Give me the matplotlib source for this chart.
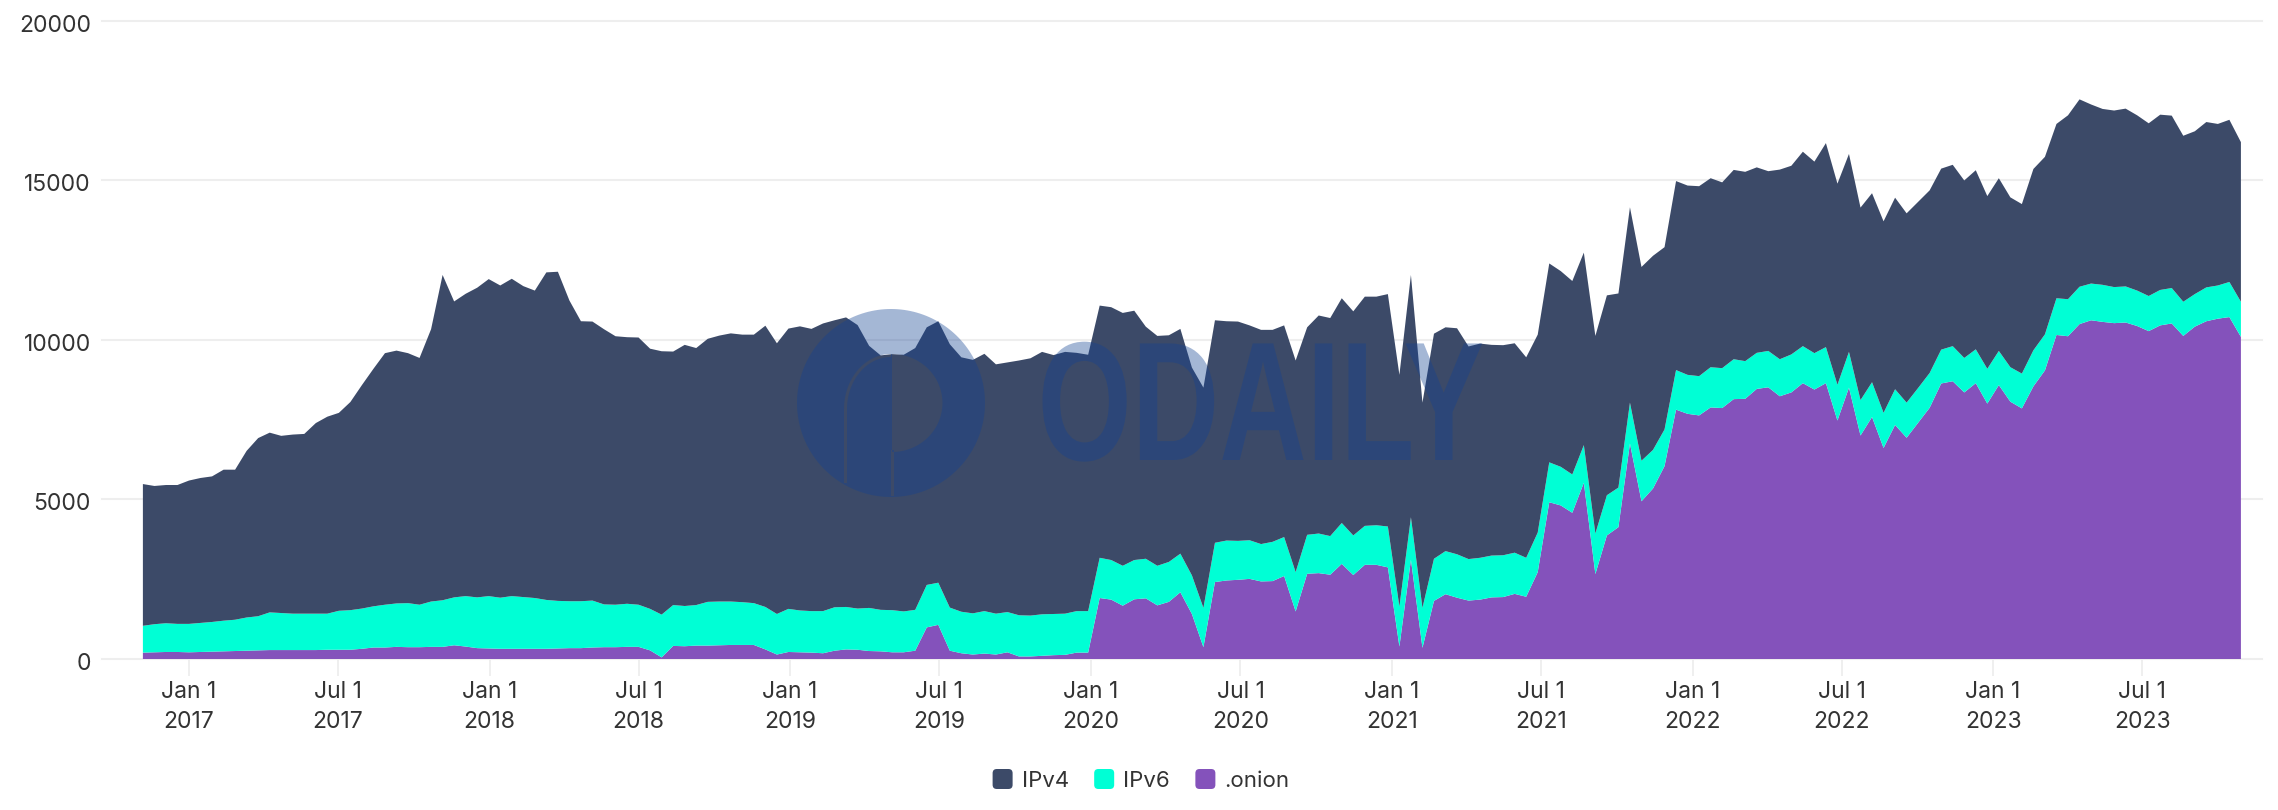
import numpy as np
import pandas as pd
import matplotlib
matplotlib.use("Agg")
import matplotlib.pyplot as plt
from matplotlib.patches import FancyBboxPatch, PathPatch, Patch
from matplotlib.path import Path
from matplotlib.legend_handler import HandlerPatch
from matplotlib.patheffects import AbstractPathEffect
from matplotlib.transforms import Affine2D, ScaledTranslation

# stacked levels, one value every 14 days from 2016-11-06
total_level = [
    5480,5420,5450,5450,5590,5670,5720,5930,5930,6520,6920,7090,6990,7030,7050,7390,7590,7710,8050,8580,9090,9580,9660,9580,9430,10330,12030,
    11200,11440,11630,11900,11700,11910,11680,11540,12110,12130,11230,10580,10570,10330,10110,10080,10070,9720,9640,9630,9840,9740,10030,10130,10200,10160,
    10160,10440,9890,10350,10420,10340,10510,10610,10700,10460,9810,9510,9550,9530,9740,10390,10580,9860,9450,9370,9560,9230,9290,9350,9420,9620,
    9520,9620,9590,9530,11070,11020,10840,10910,10410,10120,10140,10340,9130,8500,10610,10580,10570,10450,10310,10310,10450,9350,10390,10760,10680,11300,
    10890,11350,11350,11430,8900,12030,8030,10190,10390,10360,9790,9880,9840,9830,9890,9450,10160,12390,12150,11840,12730,10120,11390,11450,14150,12280,
    12630,12900,14970,14830,14810,15060,14930,15320,15260,15400,15280,15330,15450,15890,15580,16160,14890,15820,14140,14590,13710,14450,13960,14320,14680,15360,
    15480,14990,15310,14500,15060,14460,14250,15350,15730,16760,17030,17530,17370,17230,17180,17240,17030,16780,17050,17020,16390,16530,16820,16760,16890,16190]
ipv6_level = [
    1040,1090,1120,1100,1100,1130,1160,1200,1230,1300,1340,1460,1440,1420,1420,1420,1420,1510,1530,1580,1650,1700,1740,1750,1700,1800,1840,
    1930,1970,1930,1970,1920,1970,1940,1910,1850,1820,1810,1810,1830,1710,1700,1730,1700,1570,1390,1690,1660,1690,1790,1800,1800,1780,
    1750,1630,1410,1570,1520,1500,1500,1620,1630,1580,1600,1540,1530,1490,1540,2320,2390,1610,1480,1430,1500,1420,1470,1370,1360,1400,
    1410,1420,1500,1500,3170,3100,2920,3100,3140,2920,3040,3300,2620,1600,3640,3710,3700,3720,3600,3670,3820,2720,3890,3930,3850,4260,
    3870,4170,4190,4150,1640,4440,1600,3140,3380,3280,3130,3170,3240,3250,3330,3170,3960,6160,6020,5780,6700,3930,5130,5370,8030,6210,
    6550,7190,9050,8900,8860,9140,9110,9390,9330,9590,9650,9390,9540,9800,9580,9770,8590,9620,8110,8670,7710,8450,8030,8490,8960,9690,
    9800,9430,9700,9090,9650,9140,8940,9670,10170,11300,11270,11660,11760,11720,11650,11670,11540,11370,11560,11620,11190,11430,11640,11700,11810,11190]
onion_level = [
    200,210,220,220,210,220,230,240,250,260,270,280,280,280,280,280,290,290,290,320,360,360,380,370,370,380,380,
    430,390,340,330,320,320,320,320,320,330,340,340,360,370,370,380,380,270,50,410,400,420,420,430,440,440,
    440,300,140,220,210,200,180,260,300,290,250,240,210,210,260,990,1070,260,180,140,170,140,210,80,80,100,
    120,130,200,200,1910,1860,1670,1870,1900,1680,1790,2090,1410,370,2410,2460,2480,2510,2430,2440,2600,1490,2670,2690,2640,2980,
    2630,2950,2950,2870,390,3110,350,1820,2030,1920,1830,1860,1930,1940,2040,1950,2720,4910,4810,4580,5520,2660,3870,4130,6750,4940,
    5340,6040,7810,7680,7630,7880,7860,8140,8150,8460,8510,8230,8350,8640,8440,8640,7470,8500,7000,7580,6610,7330,6930,7400,7870,8630,
    8700,8350,8640,8000,8580,8060,7850,8540,9040,10150,10110,10490,10610,10560,10520,10540,10430,10270,10450,10510,10120,10410,10580,10660,10710,10090]
y_ticks = [0, 5000, 10000, 15000, 20000]
series_names = ["IPv4", "IPv6", ".onion"]
series_colors = ["#3c4a68", "#00ffd5", "#8452bb"]

dates = pd.date_range("2016-11-06", periods=len(total_level), freq="14D")
onion = np.array(onion_level, float)
ipv6 = np.array(ipv6_level, float) - onion
ipv4 = np.array(total_level, float) - np.array(ipv6_level, float)

W, H = 2278, 810
FONT = ["Inter", "DejaVu Sans"]
TEXT = "#333333"
GRID = "#eeeeee"
FS = 16.5
plt.rcParams["font.family"] = FONT

fig = plt.figure(figsize=(W/100, H/100), dpi=100, facecolor="white")
top, bottom, left, right = 20.5, 659.0, 102, 2262
ax = fig.add_axes([left/W, 1-bottom/H, (right-left)/W, (bottom-top)/H])
ax.set_facecolor("none")
ax.stackplot(dates, onion, ipv6, ipv4, colors=[series_colors[2], series_colors[1], series_colors[0]],
             linewidth=0, zorder=3)

px_per_day = 0.8234
jan17 = pd.Timestamp("2017-01-01")
ax.set_xlim(jan17 - pd.Timedelta(days=(189-left)/px_per_day), jan17 + pd.Timedelta(days=(right-189)/px_per_day))
ax.set_ylim(0, 20000)
ax.set_yticks(y_ticks)
ax.set_yticklabels([str(t) for t in y_ticks])
ticks = [pd.Timestamp(y, m, 1) for y in range(2017, 2024) for m in (1, 7)]
ax.set_xticks(ticks)
ax.set_xticklabels([f"{t.strftime('%b')} 1\n{t.year}" for t in ticks], linespacing=1.45)
for s in ax.spines.values():
    s.set_visible(False)
ax.grid(axis="y", color=GRID, linewidth=1.5, zorder=0)
for line in ax.yaxis.get_gridlines():
    line.set_clip_on(False)
ax.set_axisbelow(True)
ax.tick_params(axis="y", length=0, pad=8, labelsize=FS, labelcolor=TEXT)
ax.tick_params(axis="x", length=12, width=1.3, color=GRID, pad=4, labelsize=FS, labelcolor=TEXT)
shift = ScaledTranslation(0, -2.5/100, fig.dpi_scale_trans)
for lab in ax.yaxis.get_majorticklabels():
    lab.set_transform(lab.get_transform() + shift)

# legend with rounded swatches
class RoundHandler(HandlerPatch):
    def create_artists(self, legend, orig, xd, yd, w, h, fs, trans):
        p = FancyBboxPatch((-xd+2.5, -yd+2.5), w-5, w-5, boxstyle="round,pad=2.5,rounding_size=3",
                           facecolor=orig.get_facecolor(), edgecolor="none", transform=trans)
        return [p]

handles = [Patch(facecolor=c, label=n) for c, n in zip(series_colors, series_names)]
fig.legend(handles=handles, loc="center", bbox_to_anchor=(1141/W, 1-781/H), ncol=3, frameon=False,
           fontsize=16, labelcolor=TEXT, handlelength=0.9, handleheight=0.9, handletextpad=0.4,
           columnspacing=1.15, handler_map={Patch: RoundHandler()})

# watermark
WM = "#124293"
def P(x, y):
    return np.column_stack([np.asarray(x, float)/W, 1-np.asarray(y, float)/H])
def poly(pts):
    return Path(np.vstack([pts, pts[0]]))
cx, cy, R = 891, 403, 94
t = np.linspace(0, 2*np.pi, 181)
outer = poly(P(cx+R*np.cos(t[:-1]), cy+R*np.sin(t[:-1])))
a = np.linspace(-np.pi/2, np.pi/2, 61)
dx = np.r_[cx+1+49*np.cos(a)*1.03, cx+1]
dy = np.r_[cy-49+49*(np.sin(a)+1), cy-49]
d_hole = poly(P(dx[::-1], dy[::-1]))
strip = poly(P([cx+3, cx+3, cx, cx][::-1], [cy+47, cy+93, cy+93, cy+47][::-1]))
b = np.linspace(np.pi, 1.5*np.pi, 40)
ox = np.r_[cx-47, cx+47*np.cos(b)]
oy = np.r_[cy+80, cy+6+55*np.sin(b)]
ix = np.r_[cx-44, cx+44*np.cos(b)]
iy = np.r_[cy+80, cy+6+52*np.sin(b)]
arc_hole = poly(P(np.r_[ox, ix[::-1]][::-1], np.r_[oy, iy[::-1]][::-1]))
logo = Path.make_compound_path(outer, d_hole, strip, arc_hole)
fig.add_artist(PathPatch(logo, transform=fig.transFigure, facecolor=WM, edgecolor="none", alpha=0.38, zorder=10))

class Condense(AbstractPathEffect):
    """Squeezes text horizontally about a display x position."""
    def __init__(self, sx, x0):
        super().__init__()
        self.sx, self.x0 = sx, x0
    def draw_path(self, renderer, gc, tpath, affine, rgbFace=None):
        squeeze = Affine2D().translate(-self.x0, 0).scale(self.sx, 1).translate(self.x0, 0)
        renderer.draw_path(gc, tpath, affine + squeeze, rgbFace)

fig.text(1261/W, 1-416/H, "ODAILY", family=["Liberation Sans", "DejaVu Sans"],
         weight="bold", fontsize=122, color=WM, alpha=0.38, ha="center", va="center", zorder=10,
         path_effects=[Condense(0.715, 1261)])

fig.savefig("out.png", dpi=100, facecolor="white")
